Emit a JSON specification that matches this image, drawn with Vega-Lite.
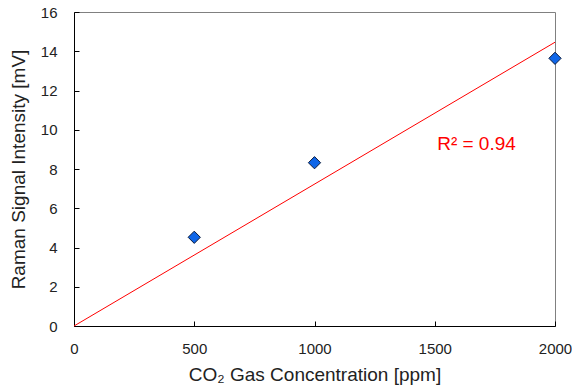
{
  "$schema": "https://vega.github.io/schema/vega-lite/v6.json",
  "width": 481,
  "height": 314,
  "autosize": "none",
  "padding": {"left": 74, "top": 12, "right": 17, "bottom": 66},
  "background": "white",
  "config": {
    "view": {"stroke": "#808080", "strokeWidth": 1},
    "font": "Liberation Sans",
    "axis": {
      "domainColor": "black",
      "domainWidth": 1,
      "tickColor": "black",
      "tickSize": -5,
      "grid": false,
      "labelOverlap": false,
      "labelSeparation": 0,
      "labelFlush": false,
      "labelFont": "Liberation Sans",
      "labelFontSize": 15,
      "labelColor": "#222222",
      "titleFont": "Liberation Sans",
      "titleFontSize": 19,
      "titleFontWeight": "normal",
      "titleColor": "#222222"
    }
  },
  "datasets": {
    "pts": [
      {"conc": 500, "signal": 4.52},
      {"conc": 1000, "signal": 8.32},
      {"conc": 2000, "signal": 13.64}
    ],
    "fit": [
      {"conc": 0, "signal": 0},
      {"conc": 2000, "signal": 14.46}
    ],
    "note": [
      {"conc": 1510, "signal": 9.27, "label": "R² = 0.94"}
    ]
  },
  "encoding": {
    "x": {
      "field": "conc", "type": "quantitative",
      "scale": {"domain": [0, 2000], "nice": false},
      "axis": {"values": [0, 500, 1000, 1500, 2000], "format": "d", "title": "CO₂ Gas Concentration [ppm]", "labelPadding": 20, "titlePadding": 9, "labelOverlap": false}
    },
    "y": {
      "field": "signal", "type": "quantitative",
      "scale": {"domain": [0, 16], "nice": false},
      "axis": {"values": [0, 2, 4, 6, 8, 10, 12, 14, 16], "format": "d", "title": "Raman Signal Intensity [mV]", "labelPadding": 22, "titlePadding": 12, "labelOverlap": false, "labelSeparation": 0}
    }
  },
  "layer": [
    {
      "data": {"name": "fit"},
      "mark": {"type": "line", "color": "#FF0000", "strokeWidth": 1}
    },
    {
      "data": {"name": "pts"},
      "mark": {"type": "point", "shape": "diamond", "filled": true, "size": 150, "fill": "#0F66E8", "stroke": "#0A1A3A", "strokeWidth": 1, "opacity": 1}
    },
    {
      "data": {"name": "note"},
      "mark": {"type": "text", "align": "left", "baseline": "middle", "color": "#FF0000", "fontSize": 19, "font": "Liberation Sans"},
      "encoding": {
        "text": {"field": "label"}
      }
    }
  ]
}
